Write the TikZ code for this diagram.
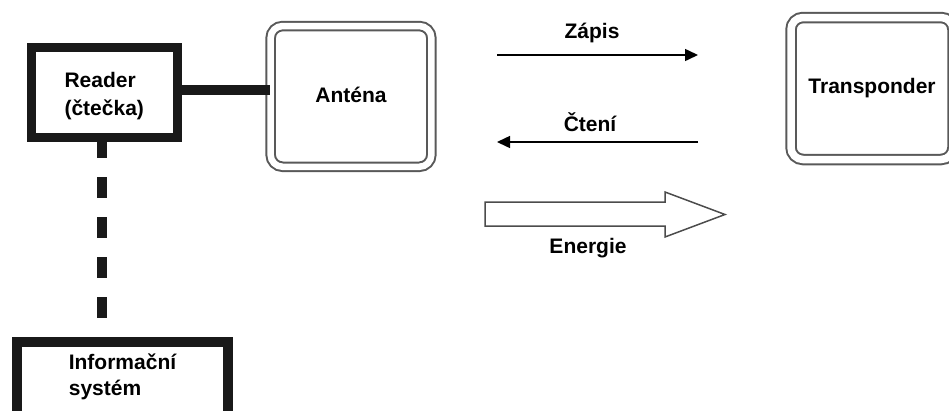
\documentclass[tikz,border=0pt]{standalone}
\usepackage{fontspec}
\setmainfont{Liberation Sans}
\usetikzlibrary{arrows.meta}

\tikzset{
	blok/.style={draw=black!90, fill=white, inner sep=0pt, align=left, font=\bfseries\fontsize{21}{27}\selectfont},
	ramecek/.style={draw=black!65, line width=2pt, double=white, double distance=6.5pt, rounded corners=12pt, inner sep=0pt, font=\bfseries\fontsize{21}{27}\selectfont},
	popis/.style={inner sep=0pt, font=\bfseries\fontsize{21}{27}\selectfont},
	tok/.style={line width=1.5pt, -{Triangle[length=13pt,width=12pt]}},
}

\begin{document}
\begin{tikzpicture}[x=1pt,y=-1pt]
	\clip (0,0) rectangle (949,410);
	% bloky
	\node[blok, line width=9pt, minimum width=146.5pt, minimum height=90pt, font=\bfseries\fontsize{21}{28}\selectfont] (reader) at (104.25,92.5) {\rule{0pt}{23pt}Reader\\(čtečka)};
	\node[blok, line width=10pt, minimum width=211pt, minimum height=85pt, font=\bfseries\fontsize{21}{26}\selectfont] (info) at (122.5,384) {Informační\\systém\rule[-18pt]{0pt}{18pt}};
	\node[ramecek, minimum width=160.75pt, minimum height=140.75pt] (antena) at (351,96.4) {\raisebox{2.5pt}{Anténa}};
	\node[ramecek, double distance=7.5pt, minimum width=162pt, minimum height=142pt] (transponder) at (872,88.5) {\raisebox{-1.5pt}{Transponder}};
	% spoje
	\draw[line width=10pt, black!90] ([yshift=2.5pt]reader.east) -- ([yshift=2.5pt]reader.east -| antena.west);
	\draw[line width=10pt, black!90, dash pattern=on 21pt off 19pt, dash phase=5pt] ([xshift=-2pt]reader.south) -- ([xshift=-2pt]reader.south |- info.north);
	% prenos
	\coordinate (zapisA) at (497,55);
	\coordinate (zapisB) at (698,55);
	\coordinate (cteniA) at (698,142);
	\coordinate (cteniB) at (497,142);
	\draw[tok] (zapisA) -- (zapisB);
	\draw[tok] (cteniA) -- (cteniB);
	\node[popis] (zapis) at (592,33) {Zápis};
	\node[popis] (cteni) at (590,122) {Čtení};
	\draw[black!70, line width=1.5pt] (485,202) -- (665,202) -- (665,192) -- (725,214.5) -- (665,237) -- (665,226) -- (485,226) -- cycle;
	\node[popis] (energie) at (588,248) {Energie};
\end{tikzpicture}
\end{document}
